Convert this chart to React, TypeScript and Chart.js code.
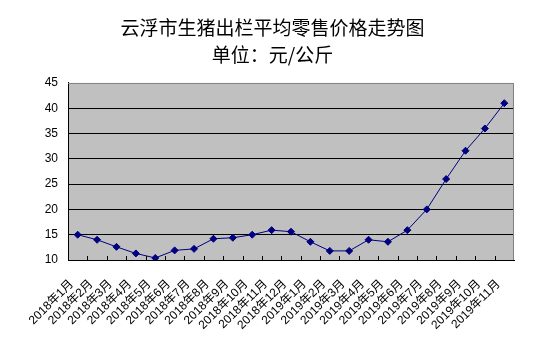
import React, { useEffect, useRef } from "react";
import { Chart, registerables } from "chart.js";

Chart.register(...registerables);

const TITLE_LINES = ["云浮市生猪出栏平均零售价格走势图", "单位：元/公斤"];

const MONTHS = [
  "2018年1月", "2018年2月", "2018年3月", "2018年4月", "2018年5月", "2018年6月",
  "2018年7月", "2018年8月", "2018年9月", "2018年10月", "2018年11月", "2018年12月",
  "2019年1月", "2019年2月", "2019年3月", "2019年4月", "2019年5月", "2019年6月",
  "2019年7月", "2019年8月", "2019年9月", "2019年10月", "2019年11月",
];

const PRICES = [
  15.0, 14.0, 12.6, 11.3, 10.4, 11.9, 12.2, 14.2, 14.4, 15.0, 15.9, 15.6,
  13.6, 11.8, 11.8, 14.0, 13.6, 15.9, 20.0, 26.0, 31.6, 36.0, 41.0,
];

const Y_MIN = 10;
const Y_MAX = 45;
const Y_STEP = 5;

const FONT = '"Liberation Sans", "Noto Sans CJK SC", sans-serif';

const plotDecor = {
  id: "plotDecor",
  beforeDraw(chart: any) {
    const { ctx, chartArea: a } = chart;
    ctx.save();
    ctx.fillStyle = "#C0C0C0";
    ctx.fillRect(a.left, a.top, a.right - a.left, a.bottom - a.top);
    ctx.restore();
  },
  beforeDatasetsDraw(chart: any) {
    const { ctx, chartArea: a } = chart;
    const xs = chart.scales.x;
    ctx.save();
    ctx.strokeStyle = "#808080";
    ctx.lineWidth = 1;
    ctx.beginPath();
    ctx.moveTo(a.left, a.top + 0.5);
    ctx.lineTo(a.right - 0.5, a.top + 0.5);
    ctx.lineTo(a.right - 0.5, a.bottom);
    ctx.stroke();
    ctx.strokeStyle = "#000000";
    ctx.beginPath();
    for (let i = 1; i < MONTHS.length; i++) {
      const px = Math.round(xs.getPixelForValue(i - 0.5)) + 0.5;
      ctx.moveTo(px, a.bottom);
      ctx.lineTo(px, a.bottom - 4);
    }
    ctx.stroke();
    ctx.restore();
  },
};

export default function App() {
  const ref = useRef<HTMLCanvasElement>(null);

  useEffect(() => {
    document.body.style.margin = "0";
    const chart = new Chart(ref.current as HTMLCanvasElement, {
      type: "line",
      data: {
        labels: MONTHS,
        datasets: [
          {
            data: PRICES,
            borderColor: "#000080",
            backgroundColor: "#000080",
            borderWidth: 1,
            pointStyle: "rectRot",
            pointRadius: 3.5,
            pointBorderWidth: 1,
            pointBackgroundColor: "#000080",
            pointBorderColor: "#000080",
            tension: 0,
          },
        ],
      },
      options: {
        responsive: false,
        animation: false,
        layout: { padding: { left: 31, right: 31, top: 0, bottom: 0 } },
        plugins: {
          legend: { display: false },
          tooltip: { enabled: false },
          title: {
            display: true,
            text: TITLE_LINES,
            color: "#000000",
            font: { family: '"Noto Sans CJK SC", sans-serif', size: 19, weight: "normal", lineHeight: 1.42 },
            padding: { top: 14, bottom: 15 },
          },
        },
        scales: {
          x: {
            offset: true,
            grid: { display: false, drawTicks: false },
            border: { display: true, color: "#000000", width: 1 },
            ticks: {
              autoSkip: false,
              maxRotation: 45,
              minRotation: 45,
              color: "#000000",
              padding: 17,
              labelOffset: -6,
              font: { family: FONT, size: 12 },
            },
            afterFit(scale: any) {
              scale.height = 83;
            },
          },
          y: {
            min: Y_MIN,
            max: Y_MAX,
            grid: {
              drawTicks: false,
              color: (c: any) => (c.tick && c.tick.value === Y_MAX ? "rgba(0,0,0,0)" : "#000000"),
              lineWidth: 1,
            },
            border: { display: true, color: "#000000", width: 1 },
            ticks: {
              stepSize: Y_STEP,
              color: "#000000",
              padding: 10,
              font: { family: FONT, size: 12 },
            },
            afterFit(scale: any) {
              scale.width = 37;
            },
          },
        },
      },
      plugins: [plotDecor],
    });
    return () => chart.destroy();
  }, []);

  return (
    <div style={{ width: 545, height: 343 }}>
      <canvas ref={ref} width={545} height={343} />
    </div>
  );
}
